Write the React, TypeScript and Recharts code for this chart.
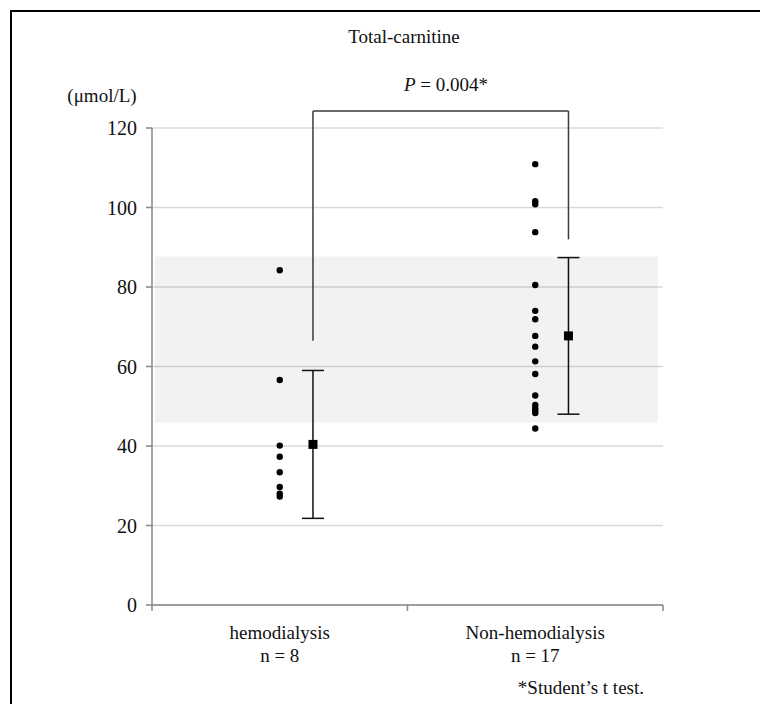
import { ScatterChart, Scatter, XAxis, YAxis, CartesianGrid, ReferenceArea, ReferenceLine, ErrorBar } from "recharts";

const categories = ["hemodialysis", "Non-hemodialysis"];
const counts = [8, 17];
const hemodialysisValues = [84.2, 56.6, 40.1, 37.3, 33.4, 29.7, 28.0, 27.3];
const nonHemodialysisValues = [
  110.9, 101.6, 100.8, 93.8, 80.5, 74.0, 71.9, 67.7, 65.0, 61.3, 58.1, 52.7, 50.3, 49.5, 48.9, 48.3, 44.4,
];
const means = [40.4, 67.7];
const sds = [18.6, 19.7];
const referenceRange = [45.9, 87.7];
const yTicks = [0, 20, 40, 60, 80, 100, 120];
const bracketTop = 124.3;
const bracketEnds = [66.5, 92.0];
const pValue = "0.004";

const MEAN_OFFSET = 0.13;
const FONT = "'Liberation Serif', 'Times New Roman', serif";
const FS = 19;
const AXIS = "#878787";

const pointData = [hemodialysisValues, nonHemodialysisValues].flatMap((vals, i) =>
  vals.map((v) => ({ x: i + 0.5, y: v }))
);
const meanData = means.map((m, i) => ({ x: i + 0.5 + MEAN_OFFSET, y: m, err: sds[i] }));

// tick y arrives already offset by tickSize + tickMargin (8px below the axis line)
const XTick = (props: any) => {
  const { x, y, payload } = props;
  const v = payload.value;
  if (Number.isInteger(v)) {
    return <line x1={x} x2={x} y1={y - 8} y2={y - 2} stroke={AXIS} strokeWidth={1.5} />;
  }
  const i = Math.floor(v);
  return (
    <g>
      <text x={x} y={y + 26} textAnchor="middle" fontFamily={FONT} fontSize={FS} fill="#111">
        {categories[i]}
      </text>
      <text x={x} y={y + 49} textAnchor="middle" fontFamily={FONT} fontSize={FS} fill="#111">
        {`n = ${counts[i]}`}
      </text>
    </g>
  );
};

const Dot = (props: any) => <circle cx={props.cx} cy={props.cy} r={3.2} fill="#000" />;
const MeanMark = (props: any) => (
  <rect x={props.cx - 4.5} y={props.cy - 4.5} width={9} height={9} fill="#000" />
);

const label = (style: React.CSSProperties, content: React.ReactNode) => (
  <div style={{ position: "absolute", fontFamily: FONT, fontSize: FS, lineHeight: "22px", color: "#111", whiteSpace: "nowrap", ...style }}>
    {content}
  </div>
);

export default function App() {
  const x0 = 0.5 + MEAN_OFFSET;
  const x1 = 1.5 + MEAN_OFFSET;
  return (
    <div style={{ position: "absolute", left: 0, top: 0, width: 760, height: 704, overflow: "hidden", background: "#fff" }}>
      <div style={{ position: "absolute", left: 10, top: 10, width: 760, height: 704, borderTop: "2px solid #000", borderLeft: "2px solid #000" }} />
      {label({ left: 404, top: 26, transform: "translateX(-50%)" }, "Total-carnitine")}
      {label({ left: 446, top: 74, transform: "translateX(-50%)" }, <><i>P</i> = {pValue}*</>)}
      {label({ left: 102, top: 85, transform: "translateX(-50%)" }, "(μmol/L)")}
      {label({ right: 116, top: 677 }, "*Student’s t test.")}
      <div style={{ position: "absolute", left: 0, top: 0 }}>
        <ScatterChart width={760} height={704} margin={{ top: 128, right: 97, bottom: 39, left: 0 }}>
          <CartesianGrid horizontal vertical={false} stroke="#d9d9d9" strokeWidth={1.5} />
          <ReferenceArea x1={0.01} x2={1.98} y1={referenceRange[0]} y2={referenceRange[1]} fill="#000" fillOpacity={0.05} stroke="none" />
          <XAxis
            type="number"
            dataKey="x"
            domain={[0, 2]}
            ticks={[0, 0.5, 1, 1.5, 2]}
            tick={<XTick />}
            tickLine={false}
            axisLine={{ stroke: AXIS, strokeWidth: 1.5 }}
            height={60}
            interval={0}
          />
          <YAxis
            type="number"
            dataKey="y"
            domain={[0, 120]}
            ticks={yTicks}
            width={152}
            tickSize={6}
            tickMargin={9}
            tickLine={{ stroke: AXIS, strokeWidth: 1.5 }}
            axisLine={{ stroke: AXIS, strokeWidth: 1.5 }}
            tick={{ fontFamily: FONT, fontSize: FS + 1, fill: "#111" }}
          />
          <ReferenceLine segment={[{ x: x0, y: bracketEnds[0] }, { x: x0, y: bracketTop }]} stroke="#3a3a3a" strokeWidth={1.5} ifOverflow="visible" />
          <ReferenceLine segment={[{ x: x0, y: bracketTop }, { x: x1, y: bracketTop }]} stroke="#3a3a3a" strokeWidth={1.5} ifOverflow="visible" />
          <ReferenceLine segment={[{ x: x1, y: bracketTop }, { x: x1, y: bracketEnds[1] }]} stroke="#3a3a3a" strokeWidth={1.5} ifOverflow="visible" />
          <Scatter data={pointData} shape={<Dot />} isAnimationActive={false} />
          <Scatter data={meanData} shape={<MeanMark />} isAnimationActive={false}>
            <ErrorBar dataKey="err" direction="y" width={11} stroke="#111" strokeWidth={1.5} />
          </Scatter>
        </ScatterChart>
      </div>
    </div>
  );
}
